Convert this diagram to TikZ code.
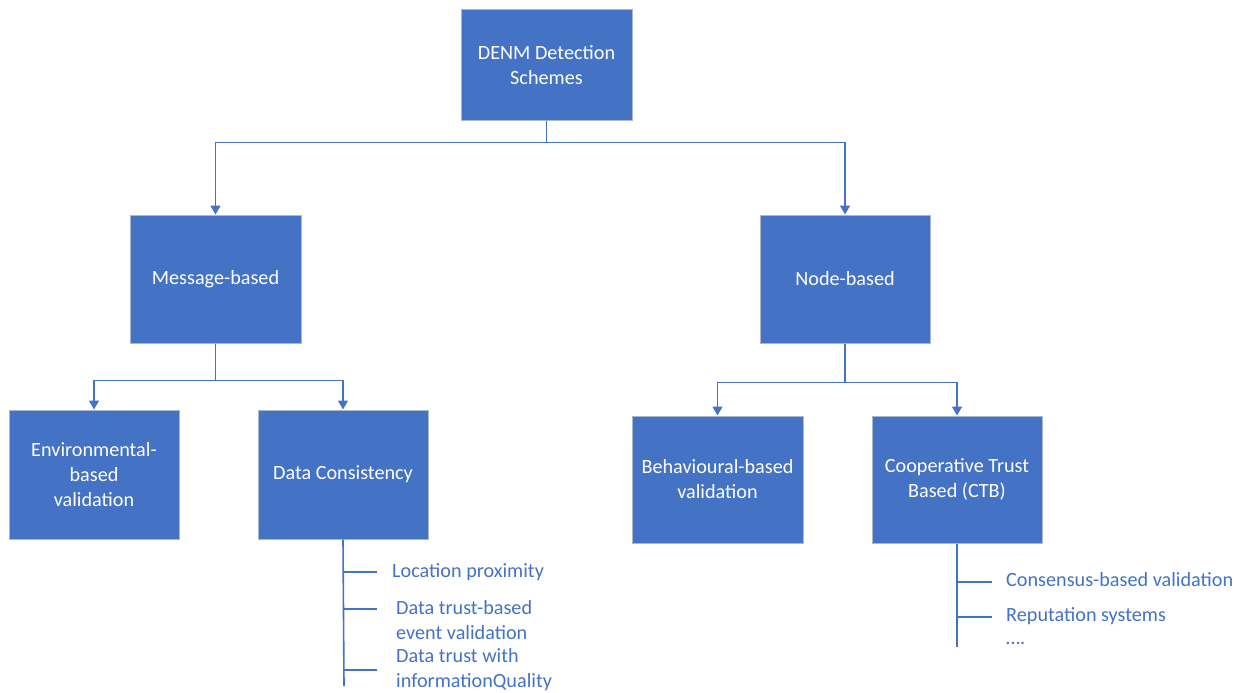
\documentclass[tikz,border=0pt]{standalone}
\usepackage{fontspec}
\setmainfont{Carlito}
\usetikzlibrary{arrows.meta}
\definecolor{bleu}{RGB}{68,114,196}
\definecolor{bord}{RGB}{170,184,204}
\begin{document}
\begin{tikzpicture}[
       x=1pt, y=-1pt,
       font=\fontsize{20.2}{25}\selectfont,
       bloc/.style={
         rectangle,
         fill=bleu,
         draw=bord,
         line width=1pt,
         text=white,
         align=center,
         minimum width=171pt,
         minimum height=128pt,
         inner sep=2pt
       },
       liste/.style={
         anchor=west,
         text=bleu,
         align=left,
         inner sep=0pt
       },
       fleche/.style={
         draw=bleu,
         line width=1.6pt,
         -{Triangle[length=9pt,width=10pt]}
       },
       trait/.style={
         draw=bleu,
         line width=1.6pt
       }
     ]

       \useasboundingbox (0,0) rectangle (1247,693);

       \node (top) at (546.5,65) [bloc,minimum height=110pt]{DENM Detection\\Schemes};
       \node (msg) at (215.5,279) [bloc]{Message-based};
       \node (nod) at (845,279) [bloc,minimum width=170pt]{Node-based};
       \node (env) at (94,474.5) [bloc,minimum width=170pt,minimum height=129pt]{Environmental-\\based\\validation};
       \node (dc) at (343,474.5) [bloc,minimum width=170pt,minimum height=129pt]{Data Consistency};
       \node (beh) at (717.5,479.5) [bloc,minimum height=127pt]{Behavioural-based\\validation};
       \node (ctb) at (957,479.5) [bloc,minimum width=170pt,minimum height=127pt]{Cooperative Trust\\Based (CTB)};

       \draw[fleche] (top.south) -- ++(0,22) -| (msg.north);
       \draw[fleche] (top.south) -- ++(0,22) -| (nod.north);

       \draw[fleche] (msg.south) -- ++(0,37) -| (env.north);
       \draw[fleche] (msg.south) -- ++(0,37) -| (dc.north);

       \draw[fleche] (nod.south) -- ++(0,39) -| (beh.north);
       \draw[fleche] (nod.south) -- ++(0,39) -| (ctb.north);

       % listes
       \node (l1) at (392,572) [liste]{Location proximity};
       \node (l2) at (396,620) [liste]{Data trust-based\\event validation};
       \node (l3) at (396,670) [liste]{Data trust with\\informationQuality};
       \coordinate (dcend) at (344,686);

       \draw[trait] (dc.south) -- (dcend);
       \draw[trait] (dc.south |- 0,572) -- ++(34,0);
       \draw[trait] (dc.south |- 0,609) -- ++(34,0);
       \draw[trait] (dc.south |- 0,670) -- ++(34,0);

       \node (r1) at (1006,580) [liste]{Consensus-based validation};
       \node (r2) at (1006,616) [liste]{Reputation systems};
       \node (r3) at (1006,643) [liste]{….};
       \coordinate (ctbend) at (957,647);

       \draw[trait] (ctb.south) -- (ctbend);
       \draw[trait] (ctb.south |- 0,582) -- ++(35,0);
       \draw[trait] (ctb.south |- 0,617) -- ++(35,0);

\end{tikzpicture}
\end{document}
